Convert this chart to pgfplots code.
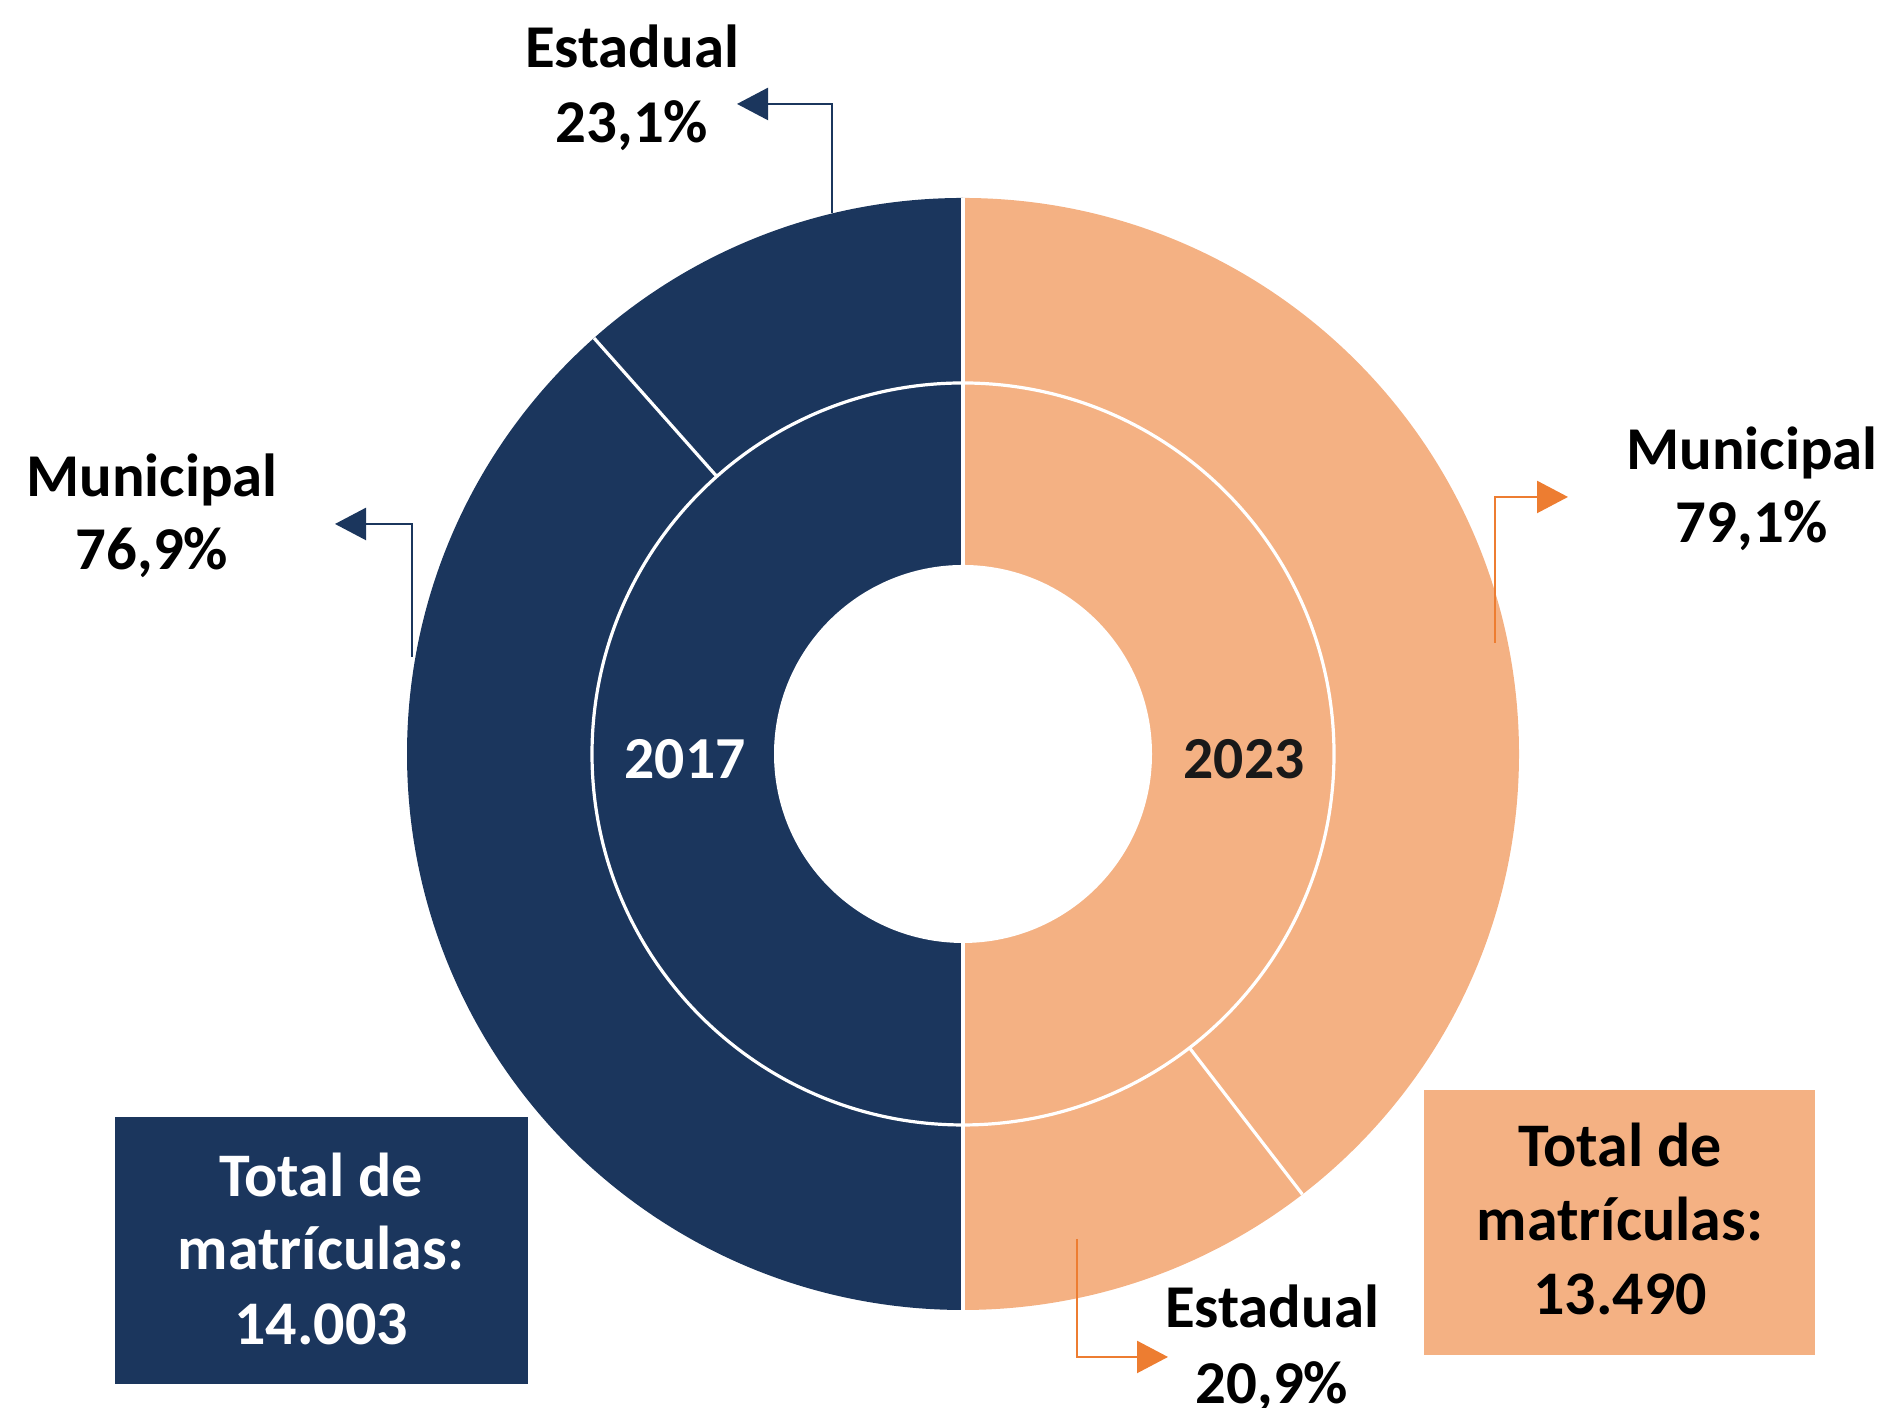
\documentclass[border=0pt]{standalone}
\usepackage{fontspec}
\setmainfont{Carlito}
\usepackage{pgfplots}
\usepackage{pgfplotstable}
\pgfplotsset{compat=1.18}
\usetikzlibrary{arrows.meta}

\definecolor{navy}{RGB}{27,54,93}
\definecolor{peach}{RGB}{244,177,131}
\definecolor{arrorange}{RGB}{237,125,49}

% share of enrolments (%), each year fills one half of the ring
\pgfplotstableread{
ano estadual municipal
2017 23.1 76.9
2023 20.9 79.1
}\matriculas

\pgfplotstablegetelem{0}{estadual}\of\matriculas \let\estA\pgfplotsretval
\pgfplotstablegetelem{1}{estadual}\of\matriculas \let\estB\pgfplotsretval
\pgfmathsetmacro\angA{90+1.8*\estA}
\pgfmathsetmacro\angB{-90+1.8*\estB}

\def\Ro{139pt}
\def\Rm{92.75pt}
\def\Rd{46.25pt}
\def\Ri{47.25pt}
\newcommand\lbl{\fontsize{15.2}{18}\selectfont\bfseries}
\newcommand\boxlbl{\fontsize{15.5}{18}\selectfont\bfseries}
\newcommand\yr{\fontsize{14.9}{18}\selectfont\bfseries}

\begin{document}
\begin{tikzpicture}
\useasboundingbox (0,0) rectangle (471.25pt,352pt);
\begin{axis}[
    x=0.25pt, y=0.25pt,
    xmin=0, xmax=1885, ymin=0, ymax=1408,
    hide axis, clip=false,
]
\coordinate (c) at (axis cs:963,654);
% halves
\fill[navy] (c) -- ++(90:\Ro) arc[start angle=90, end angle=270, radius=\Ro] -- cycle;
\fill[peach] (c) -- ++(90:\Ro) arc[start angle=90, end angle=-90, radius=\Ro] -- cycle;
% separators
\draw[white, line width=0.8pt] (c) circle[radius=\Rm];
\draw[white, line width=0.8pt] ([yshift=\Ro]c) -- ([yshift=-\Ro]c);
\draw[white, line width=0.8pt] (c) ++(\angA:\Rm) -- ++(\angA:\Rd);
\draw[white, line width=0.8pt] (c) ++(\angB:\Rm) -- ++(\angB:\Rd);
\fill[white] (c) circle[radius=\Ri];

% years
\node[anchor=base, text=white, font=\yr] at (axis cs:685,629) {2017};
\node[anchor=base, text=black!90, font=\yr] at (axis cs:1244,629) {2023};

% callouts
\draw[navy, line width=0.6pt, -{Triangle[length=7.75pt, width=8pt]}]
    (axis cs:832,1195) -- (axis cs:832,1304) -- (axis cs:737,1304);
\draw[navy, line width=0.6pt, -{Triangle[length=7.75pt, width=8pt]}]
    (axis cs:412,751) -- (axis cs:412,884) -- (axis cs:335,884);
\draw[arrorange, line width=0.6pt, -{Triangle[length=7.75pt, width=8pt]}]
    (axis cs:1495,765) -- (axis cs:1495,911) -- (axis cs:1568,911);
\draw[arrorange, line width=0.6pt, -{Triangle[length=7.75pt, width=8pt]}]
    (axis cs:1077,169) -- (axis cs:1077,51) -- (axis cs:1168,51);

\node[anchor=base, font=\lbl] at (axis cs:632,1340) {Estadual};
\node[anchor=base, font=\lbl] at (axis cs:632,1265) {23,1\%};
\node[anchor=base, font=\lbl] at (axis cs:152,911) {Municipal};
\node[anchor=base, font=\lbl] at (axis cs:152,838) {76,9\%};
\node[anchor=base, font=\lbl] at (axis cs:1752,938) {Municipal};
\node[anchor=base, font=\lbl] at (axis cs:1752,865) {79,1\%};
\node[anchor=base, font=\lbl] at (axis cs:1272,80) {Estadual};
\node[anchor=base, font=\lbl] at (axis cs:1272,4) {20,9\%};

% totals
\fill[navy] (axis cs:115,24) rectangle (axis cs:528,291);
\node[anchor=base, text=white, font=\boxlbl] at (axis cs:321,211) {Total de};
\node[anchor=base, text=white, font=\boxlbl] at (axis cs:321,138) {matrículas:};
\node[anchor=base, text=white, font=\boxlbl] at (axis cs:321,63) {14.003};
\fill[peach] (axis cs:1424,53) rectangle (axis cs:1815,318);
\node[anchor=base, font=\boxlbl] at (axis cs:1620,241) {Total de};
\node[anchor=base, font=\boxlbl] at (axis cs:1620,167) {matrículas:};
\node[anchor=base, font=\boxlbl] at (axis cs:1620,93) {13.490};
\end{axis}
\end{tikzpicture}
\end{document}
